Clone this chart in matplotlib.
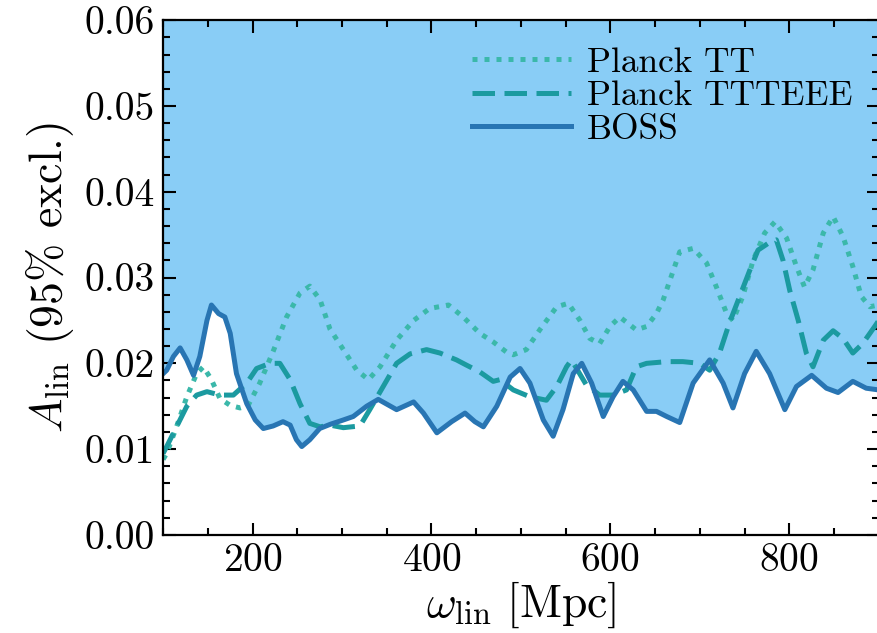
import matplotlib
matplotlib.use("Agg")
import matplotlib.pyplot as plt
from matplotlib.ticker import MultipleLocator, FormatStrFormatter

plt.rcParams['font.family'] = 'serif'
plt.rcParams['font.serif'] = ['cmr10']
plt.rcParams['mathtext.fontset'] = 'cm'
plt.rcParams['axes.formatter.use_mathtext'] = True

# BOSS (solid)
boss_x = [100, 104, 111.5, 119, 126.5, 134, 141, 149, 154, 162, 169, 175, 182, 193.5, 203, 212,
          223, 234, 242, 249, 255, 264, 275, 287, 301.5, 312.5, 327.5, 340.5, 361, 380, 391,
          406, 422.5, 437.5, 448.5, 458, 473, 488, 499, 510, 525, 536, 547, 558.5, 568, 579,
          592, 603, 614, 625.5, 640.5, 651.5, 663, 677.5, 692.5, 711, 726, 737, 750, 763,
          778, 795, 808, 825, 841.5, 854.5, 871, 886, 900]
boss_y = [0.0188, 0.0192, 0.0208, 0.0218, 0.0204, 0.0186, 0.0208, 0.0250, 0.0268, 0.0258, 0.0254,
          0.0235, 0.0188, 0.0153, 0.0134, 0.0124, 0.0127, 0.0132, 0.0128, 0.0111, 0.0103,
          0.0111, 0.0124, 0.0129, 0.0134, 0.0138, 0.0150, 0.0158, 0.0146, 0.0155, 0.0142,
          0.0119, 0.0132, 0.0142, 0.0132, 0.0126, 0.0150, 0.0184, 0.0194, 0.0177, 0.0134,
          0.0115, 0.0146, 0.0188, 0.0200, 0.0177, 0.0138, 0.0161, 0.0179, 0.0169, 0.0144,
          0.0144, 0.0138, 0.0131, 0.0177, 0.0204, 0.0177, 0.0148, 0.0188, 0.0214, 0.0188,
          0.0146, 0.0173, 0.0186, 0.0171, 0.0166, 0.0179, 0.0171, 0.0169]

# Planck TT (dotted)
tt_x = [100, 104, 115, 126.5, 137.5, 145, 154, 163.5, 175, 186, 195, 208, 223, 238, 253, 264,
        275.5, 286.5, 301.5, 316.5, 329.5, 342.5, 361, 380, 398, 419, 435.5, 454, 469, 484,
        491.5, 506, 521, 540, 553, 566, 577, 588, 599.5, 610.5, 629, 640.5, 651.5, 659,
        677.5, 692.5, 707.5, 718.5, 730, 737, 748, 759.5, 772.5, 784, 797, 808, 817, 826.5,
        838, 849, 860, 871, 880.5, 890, 900]
tt_y = [0.0088, 0.0095, 0.0126, 0.0161, 0.0188, 0.0196, 0.0181, 0.0159, 0.0151, 0.0148, 0.0151,
        0.0177, 0.0214, 0.0254, 0.0282, 0.0290, 0.0274, 0.0240, 0.0216, 0.0192, 0.0181,
        0.0196, 0.0227, 0.0250, 0.0264, 0.0268, 0.0254, 0.0235, 0.0225, 0.0213, 0.0210,
        0.0216, 0.0239, 0.0266, 0.0270, 0.0250, 0.0229, 0.0223, 0.0243, 0.0254, 0.0239,
        0.0243, 0.0258, 0.0274, 0.0330, 0.0334, 0.0317, 0.0289, 0.0258, 0.0250, 0.0278,
        0.0320, 0.0352, 0.0365, 0.0346, 0.0313, 0.0289, 0.0309, 0.0352, 0.0371, 0.0348,
        0.0313, 0.0278, 0.0266, 0.0268]

# Planck TTTEEE (dashed)
te_x = [100, 104, 115, 126.5, 137.5, 149, 163.5, 178.5, 193.5, 204.5, 219.5, 230.5, 242, 253,
        264, 275.5, 286.5, 301.5, 320, 331, 346, 361, 376, 394.5, 409.5, 428, 439, 454, 469,
        476.5, 491.5, 510, 528.5, 540, 551, 556.5, 573, 588, 603, 618, 629, 640.5, 663, 681,
        700, 711, 722, 733, 744.5, 756, 765, 776.5, 785.5, 793, 800.5, 810, 819, 826.5, 838,
        849, 860, 871, 882, 895.5, 900]
te_y = [0.0095, 0.0103, 0.0126, 0.0150, 0.0163, 0.0167, 0.0163, 0.0163, 0.0177, 0.0194, 0.0200,
        0.0200, 0.0181, 0.0153, 0.0130, 0.0126, 0.0128, 0.0125, 0.0127, 0.0146, 0.0173,
        0.0200, 0.0211, 0.0216, 0.0212, 0.0204, 0.0198, 0.0190, 0.0179, 0.0181, 0.0169,
        0.0161, 0.0157, 0.0173, 0.0196, 0.0204, 0.0175, 0.0163, 0.0163, 0.0169, 0.0196,
        0.0200, 0.0202, 0.0202, 0.0200, 0.0192, 0.0212, 0.0247, 0.0278, 0.0309, 0.0332,
        0.0340, 0.0344, 0.0320, 0.0285, 0.0250, 0.0212, 0.0196, 0.0227, 0.0238, 0.0229,
        0.0212, 0.0223, 0.0243, 0.0250]

fig = plt.figure(figsize=(8.77, 6.33), dpi=100)
ax = fig.add_axes([0.186, 0.155, 0.816, 0.813])

ax.fill_between(boss_x, boss_y, 0.06, color='#89cdf6', lw=0)
ax.plot(tt_x, tt_y, ls=(0, (1, 1.4)), lw=3.6, color='#3bb8aa', label='Planck TT')
ax.plot(te_x, te_y, ls=(0, (4.5, 1.9)), lw=3.6, color='#1b9aa0', label='Planck TTTEEE')
ax.plot(boss_x, boss_y, ls='-', lw=3.6, color='#2875b3', label='BOSS',
        solid_joinstyle='round')

ax.set_xlim(100, 900)
ax.set_ylim(0, 0.06)
ax.xaxis.set_major_locator(MultipleLocator(200))
ax.xaxis.set_minor_locator(MultipleLocator(50))
ax.yaxis.set_major_locator(MultipleLocator(0.01))
ax.yaxis.set_minor_locator(MultipleLocator(0.002))
ax.yaxis.set_major_formatter(FormatStrFormatter('%.2f'))
ax.tick_params(which='both', direction='in', top=True, right=True, labelsize=28.5, width=1.5)
ax.tick_params(which='major', length=9, pad=6)
ax.tick_params(which='minor', length=5)
for s in ax.spines.values():
    s.set_linewidth(1.6)

ax.set_xlabel(r'$\omega_{\rm lin}\ [{\rm Mpc}]$', fontsize=33, labelpad=0)
ax.set_ylabel(r'$A_{\rm lin}$ (95$\%$ excl.)', fontsize=33, labelpad=6)

ax.legend(loc='upper right', frameon=False, fontsize=25.5, handlelength=2.8,
          handletextpad=0.45, labelspacing=0.05, borderaxespad=0.35)

fig.savefig('out.png', dpi=100)
